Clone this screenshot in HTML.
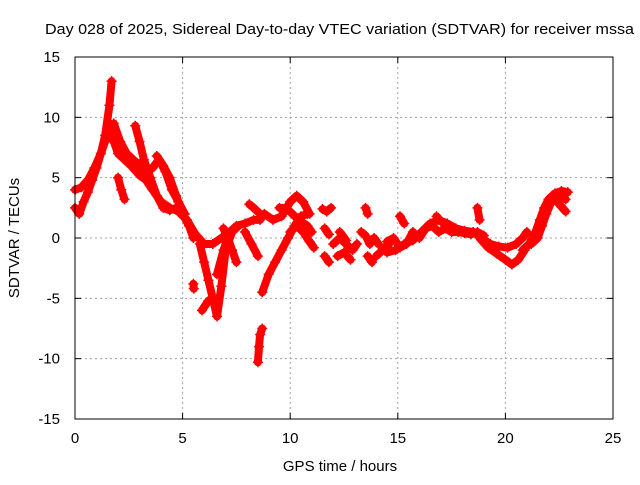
<!DOCTYPE html>
<html><head><meta charset="utf-8"><style>
body{margin:0;background:#fff;}
svg text{font-family:"Liberation Sans",sans-serif;font-size:15px;fill:#000;}
</style></head><body>
<svg id="chart" width="640" height="480" xmlns="http://www.w3.org/2000/svg">
<rect width="640" height="480" fill="#fff"/>
<text x="45" y="34" textLength="589" lengthAdjust="spacingAndGlyphs">Day 028 of 2025, Sidereal Day-to-day VTEC variation (SDTVAR) for receiver mssa</text>
<text transform="translate(19,238) rotate(-90)" text-anchor="middle">SDTVAR / TECUs</text>
<text x="340" y="471" text-anchor="middle">GPS time / hours</text>
<g id="grid"></g>
<g id="marks"></g>
<rect x="75" y="57" width="538" height="362" fill="none" stroke="#000" stroke-width="1"/>
<g id="ticks"></g>
</svg>
<script>
const xTicks=[0,5,10,15,20,25];
const yTicks=[15,10,5,0,-5,-10,-15];
const tracks=[
 {t:[0,0.2,0.4,0.6,0.8,1.0,1.2,1.4,1.6,1.7],v:[2.5,2,3,3.8,4.8,5.8,7,8.5,11,13]},
 {t:[0,0.3,0.6,0.9,1.2,1.5,1.7],v:[4,4.2,4.8,5.8,7,8.5,9]},
 {t:[1.6,1.8,2.0,2.3,2.6,3.0,3.3,3.6,4.0,4.4,4.8,5.2,5.6,6.0,6.4,6.8],v:[8.5,8,7,6.5,6,5.2,4.8,4,3,2.5,2.2,1.5,0.3,-0.5,-0.5,0]},
 {t:[1.8,2.1,2.4,2.7,3.0,3.3,3.6,3.9,4.2,4.5,4.8,5.1],v:[9.5,8,7,6.5,6,5.5,5.8,6.5,5.5,4,3,2]},
 {t:[2.8,3.0,3.2,3.5,3.8,4.1,4.4,4.7,5.0],v:[9.3,8,6.5,5,3.5,2.5,2.3,2.5,2.2]},
 {t:[3.8,4.1,4.4,4.7,5.0,5.3,5.5],v:[6.8,6,5,3.5,2,1,0]},
 {t:[2.0,2.15,2.3],v:[5,4,3.2]},
 {t:[5.8,6.0,6.2,6.4,6.6,6.8,7.0,7.3,7.6],v:[-0.5,-2,-3.5,-5,-6.5,-4,-1,0.5,1]},
 {t:[5.9,6.2,6.4],v:[-6,-5.2,-5]},
 {t:[6.6,6.9,7.2,7.5,7.9,8.3,8.6],v:[-3,-1,0.5,1,1.2,1.5,1.5]},
 {t:[6.9,7.1,7.3,7.5],v:[0.8,0,-1,-2]},
 {t:[7.9,8.2,8.5],v:[0.5,-0.5,-1.5]},
 {t:[8.1,8.3,8.6],v:[2.8,2.5,2.0]},
 {t:[5.5,5.52],v:[-3.8,-4.2]},
 {t:[8.5,8.55,8.6,8.7],v:[-10.3,-9,-8,-7.5]},
 {t:[8.7,9.0,9.3,9.6,9.9,10.2,10.5,10.8],v:[-4.5,-3,-2,-1,0,1,1.8,2]},
 {t:[8.8,9.2,9.6,10.0,10.3,10.6,10.9],v:[2,1.5,1.8,3,3.5,3,2]},
 {t:[10,10.3,10.6,10.9,11.1],v:[0.5,1,0.5,-0.3,-0.8]},
 {t:[9.5,9.8,10.1,10.4,10.8,11.0],v:[2.5,2.5,2,1.5,1.0,0.5]},
 {t:[11.5,11.7,11.9],v:[2.4,2.2,2.5]},
 {t:[11.6,11.8],v:[0.8,0.3]},
 {t:[11.6,11.8],v:[-1.5,-2]},
 {t:[12.0,12.3,12.6,12.9,13.1],v:[-0.5,0,-0.5,-1,-0.5]},
 {t:[12.2,12.5,12.8],v:[-1.5,-1.2,-1.8]},
 {t:[12.3,12.6],v:[0.5,-0.2]},
 {t:[13.3,13.5,13.7,13.9,14.1],v:[0.5,0.2,-0.5,0,-0.5]},
 {t:[13.5,13.6],v:[2.5,2.0]},
 {t:[13.6,13.8],v:[-1.5,-2]},
 {t:[14.0,14.3,14.6],v:[-1.5,-1.0,-0.5]},
 {t:[14.5,14.8,15.1,15.4,15.7,16.0,16.3,16.6,16.9,17.2,17.5,17.8,18.1,18.4,18.7,19.0],v:[-0.3,0,-0.8,-0.5,0.5,0,0.8,1,0.5,0.8,0.5,0.5,0.4,0.3,0.5,0.2]},
 {t:[14.5,14.9,15.3,15.7,16.1,16.5,16.9,17.3,17.7,18.1,18.5],v:[-1.2,-1,-0.5,-0.2,0.5,1.2,1.5,1.2,0.8,0.6,0.5]},
 {t:[15.1,15.3],v:[1.8,1.2]},
 {t:[16.8,17.0],v:[1.8,1.4]},
 {t:[18.7,18.8],v:[2.5,1.5]},
 {t:[18.5,18.9,19.3,19.7,20.1,20.5,20.8,21.0],v:[0.5,0,-0.5,-0.7,-0.8,-0.5,0,0.5]},
 {t:[18.8,19.2,19.6,20.0,20.3,20.6,20.9],v:[0,-0.8,-1.3,-1.8,-2.2,-1.8,-1]},
 {t:[20.8,21.1,21.4,21.6,21.8,22.0,22.3,22.6,22.9],v:[-1,-0.5,0.5,1.5,2.5,3.2,3.7,3.9,3.8]},
 {t:[21.2,21.5,21.7,21.9,22.2,22.5,22.8],v:[-0.5,0,1,2,3.3,3.5,3.2]},
 {t:[22.2,22.5,22.8],v:[3.5,2.8,2.2]}
];
const NS="http://www.w3.org/2000/svg";
const X0=75,X1=613,Y0=419,Y1=57;
function sx(t){return X0+(t-0)/(25-0)*(X1-X0);}
function sy(v){return Y0-(v+15)/30*(Y0-Y1);}
function mk(tag,a,p){const e=document.createElementNS(NS,tag);for(const k in a)e.setAttribute(k,a[k]);p.appendChild(e);return e;}
const grid=document.getElementById('grid'),ticks=document.getElementById('ticks'),marks=document.getElementById('marks');
xTicks.forEach(t=>{const x=sx(t);
 if(t>0&&t<25){const g=mk('line',{x1:x,x2:x,y1:Y1,y2:Y0,stroke:'#a0a0a0','stroke-dasharray':'2,3'},grid);
 
 }
 mk('line',{x1:x,x2:x,y1:Y0,y2:Y0-6,stroke:'#000'},ticks);mk('line',{x1:x,x2:x,y1:Y1,y2:Y1+6,stroke:'#000'},ticks);
 const l=mk('text',{x:x,y:Y0+24,'text-anchor':'middle'},ticks);l.textContent=t;
 
 });
yTicks.forEach(v=>{const y=sy(v);
 if(v>-15&&v<15){const g=mk('line',{x1:X0,x2:X1,y1:y,y2:y,stroke:'#a0a0a0','stroke-dasharray':'2,3'},grid);
 
 }
 mk('line',{x1:X0,x2:X0+6,y1:y,y2:y,stroke:'#000'},ticks);mk('line',{x1:X1,x2:X1-6,y1:y,y2:y,stroke:'#000'},ticks);
 const l=mk('text',{x:X0-15,y:y+5,'text-anchor':'end'},ticks);l.textContent=v;
 
 });
tracks.forEach(tr=>{
 const pts=tr.t.map((t,i)=>sx(t)+','+sy(tr.v[i])).join(' ');
 const pl=mk('polyline',{points:pts,fill:'none',stroke:'#f00','stroke-width':8,'stroke-linejoin':'round','stroke-linecap':'round'},marks);
 
 
 tr.t.forEach((t,i)=>{const x=sx(t),y=sy(tr.v[i]);
  const p=mk('path',{d:`M${x-5},${y}H${x+5}M${x},${y-5}V${y+5}`,stroke:'#f00','stroke-width':1.5},marks);
  
  });
});
</script>
</body></html>
